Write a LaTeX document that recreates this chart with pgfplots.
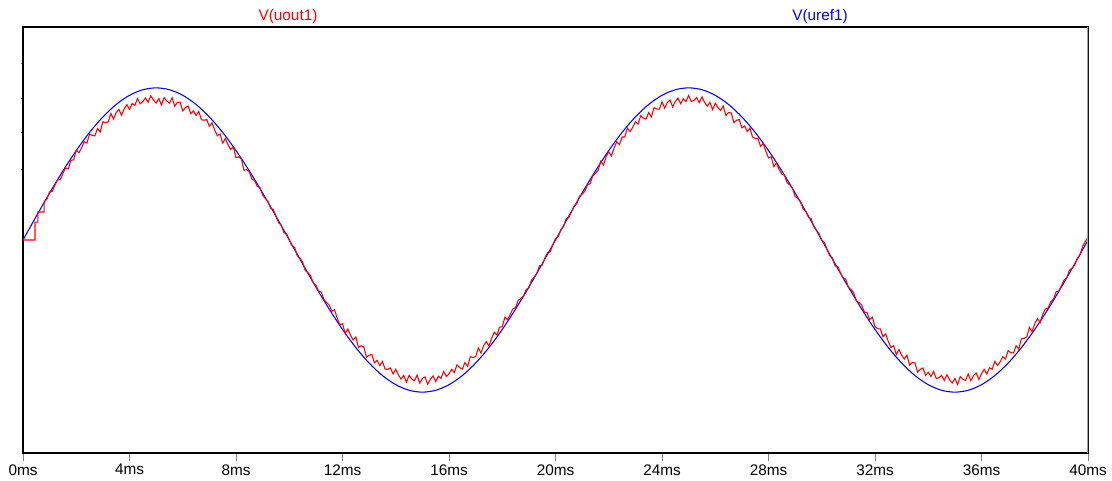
\documentclass[border=0pt]{standalone}
\usepackage{pgfplots}
\pgfplotsset{compat=1.18}
\usepackage{fontspec}
\setmainfont{Liberation Sans}
\definecolor{ltred}{RGB}{255,0,0}
\definecolor{ltblue}{RGB}{0,0,255}
\begin{document}
\begin{tikzpicture}
\useasboundingbox (0,0) rectangle (834pt,360pt);
\begin{axis}[
  at={(17.25pt,20.25pt)}, anchor=south west,
  scale only axis, width=798.75pt, height=319.5pt,
  xmin=0, xmax=40, ymin=-1.4, ymax=1.4,
  axis line style={black, line width=0.8pt},
  xtick={0,4,...,40},
  xticklabels={0ms,4ms,8ms,12ms,16ms,20ms,24ms,28ms,32ms,36ms,40ms},
  ytick={0.467,0.704,0.928,1.164},
  yticklabels={},
  xtick pos=bottom, ytick pos=left,
  tick align=outside,
  major tick length=6pt,
  ytick style={/pgfplots/major tick length=1.5pt, line width=0.6pt},
  xtick style={line width=0.6pt},
  xticklabel style={font=\fontsize{11.5}{13}\selectfont, yshift=1pt},
]
\addplot[ltblue, line width=0.8pt, smooth] coordinates {
(0,0)(0.5,.1564)(1,.3090)(1.5,.4540)(2,.5878)(2.5,.7071)(3,.8090)(3.5,.8910)(4,.9511)(4.5,.9877)
(5,1)(5.5,.9877)(6,.9511)(6.5,.8910)(7,.8090)(7.5,.7071)(8,.5878)(8.5,.4540)(9,.3090)(9.5,.1564)
(10,0)(10.5,-.1564)(11,-.3090)(11.5,-.4540)(12,-.5878)(12.5,-.7071)(13,-.8090)(13.5,-.8910)(14,-.9511)(14.5,-.9877)
(15,-1)(15.5,-.9877)(16,-.9511)(16.5,-.8910)(17,-.8090)(17.5,-.7071)(18,-.5878)(18.5,-.4540)(19,-.3090)(19.5,-.1564)
(20,0)(20.5,.1564)(21,.3090)(21.5,.4540)(22,.5878)(22.5,.7071)(23,.8090)(23.5,.8910)(24,.9511)(24.5,.9877)
(25,1)(25.5,.9877)(26,.9511)(26.5,.8910)(27,.8090)(27.5,.7071)(28,.5878)(28.5,.4540)(29,.3090)(29.5,.1564)
(30,0)(30.5,-.1564)(31,-.3090)(31.5,-.4540)(32,-.5878)(32.5,-.7071)(33,-.8090)(33.5,-.8910)(34,-.9511)(34.5,-.9877)
(35,-1)(35.5,-.9877)(36,-.9511)(36.5,-.8910)(37,-.8090)(37.5,-.7071)(38,-.5878)(38.5,-.4540)(39,-.3090)(39.5,-.1564)
(40,0)
};
\addplot[ltred, line width=0.8pt] coordinates {
(0,0)(0.45,0)(0.45,0.118)(0.56,0.118)(0.56,0.184)(0.79,0.184)(0.79,0.25)(0.9,0.27)
(1.0,.316)(1.1,.320)(1.2,.362)(1.3,.395)(1.4,.396)(1.5,.438)(1.6,.473)(1.7,.468)(1.8,.523)(1.9,.527)
(2.0,.590)(2.1,.573)(2.2,.605)(2.3,.646)(2.4,.637)(2.5,.697)(2.6,.687)(2.7,.685)(2.8,.733)(2.9,.710)
(3.0,.777)(3.1,.772)(3.2,.777)(3.3,.831)(3.4,.795)(3.5,.838)(3.6,.859)(3.7,.820)(3.8,.861)(3.9,.890)
(4.0,.859)(4.1,.897)(4.2,.884)(4.3,.930)(4.4,.895)(4.5,.910)(4.6,.933)(4.7,.906)(4.8,.948)(4.9,.920)
(5.0,.900)(5.1,.930)(5.2,.888)(5.3,.936)(5.4,.913)(5.5,.900)(5.6,.935)(5.7,.880)(5.8,.904)(5.9,.907)
(6.0,.849)(6.1,.870)(6.2,.881)(6.3,.830)(6.4,.849)(6.5,.818)(6.6,.845)(6.7,.791)(6.8,.787)(6.9,.792)
(7.0,.747)(7.1,.770)(7.2,.723)(7.3,.685)(7.4,.697)(7.5,.637)(7.6,.667)(7.7,.626)(7.8,.595)(7.9,.613)
(8.0,.540)(8.1,.547)(8.2,.533)(8.3,.458)(8.4,.463)(8.5,.448)(8.6,.401)(8.7,.390)(8.8,.352)(8.9,.345)
(9.0,.296)(9.1,.273)(9.2,.254)(9.3,.209)(9.4,.200)(9.5,.155)(9.6,.114)(9.7,.098)(9.8,.048)(9.9,.041)
(10.0,0)(10.1,-.036)(10.2,-.048)(10.3,-.103)(10.4,-.119)(10.5,-.145)(10.6,-.200)(10.7,-.214)(10.8,-.234)(10.9,-.283)
(11.0,-.296)(11.1,-.335)(11.2,-.342)(11.3,-.390)(11.4,-.411)(11.5,-.428)(11.6,-.468)(11.7,-.458)(11.8,-.513)(11.9,-.557)
(12.0,-.550)(12.1,-.613)(12.2,-.585)(12.3,-.626)(12.4,-.657)(12.5,-.637)(12.6,-.707)(12.7,-.695)(12.8,-.703)(12.9,-.770)
(13.0,-.757)(13.1,-.752)(13.2,-.807)(13.3,-.791)(13.4,-.825)(13.5,-.798)(13.6,-.849)(13.7,-.850)(13.8,-.841)(13.9,-.880)
(14.0,-.849)(14.1,-.887)(14.2,-.914)(14.3,-.890)(14.4,-.935)(14.5,-.890)(14.6,-.913)(14.7,-.926)(14.8,-.888)(14.9,-.940)
(15.0,-.910)(15.1,-.900)(15.2,-.948)(15.3,-.916)(15.4,-.893)(15.5,-.930)(15.6,-.895)(15.7,-.910)(15.8,-.864)(15.9,-.897)
(16.0,-.879)(16.1,-.850)(16.2,-.871)(16.3,-.820)(16.4,-.839)(16.5,-.848)(16.6,-.805)(16.7,-.831)(16.8,-.767)(16.9,-.772)
(17.0,-.767)(17.1,-.710)(17.2,-.743)(17.3,-.695)(17.4,-.667)(17.5,-.697)(17.6,-.647)(17.7,-.606)(17.8,-.625)(17.9,-.573)
(18.0,-.570)(18.1,-.507)(18.2,-.523)(18.3,-.488)(18.4,-.453)(18.5,-.443)(18.6,-.396)(18.7,-.385)(18.8,-.367)(18.9,-.325)
(19.0,-.316)(19.1,-.263)(19.2,-.244)(19.3,-.219)(19.4,-.170)(19.5,-.165)(19.6,-.119)(19.7,-.083)(19.8,-.078)(19.9,-.031)
(20.0,.010)(20.1,.021)(20.2,.068)(20.3,.088)(20.4,.139)(20.5,.150)(20.6,.185)(20.7,.224)(20.8,.239)(20.9,.288)
(21.0,.301)(21.1,.320)(21.2,.362)(21.3,.370)(21.4,.421)(21.5,.438)(21.6,.458)(21.7,.518)(21.8,.493)(21.9,.547)
(22.0,.580)(22.1,.553)(22.2,.605)(22.3,.646)(22.4,.627)(22.5,.677)(22.6,.677)(22.7,.735)(22.8,.713)(22.9,.740)
(23.0,.777)(23.1,.762)(23.2,.817)(23.3,.801)(23.4,.795)(23.5,.838)(23.6,.809)(23.7,.870)(23.8,.861)(23.9,.860)
(24.0,.909)(24.1,.867)(24.2,.904)(24.3,.920)(24.4,.875)(24.5,.910)(24.6,.933)(24.7,.896)(24.8,.928)(24.9,.910)
(25.0,.950)(25.1,.910)(25.2,.918)(25.3,.936)(25.4,.903)(25.5,.940)(25.6,.905)(25.7,.880)(25.8,.904)(25.9,.857)
(26.0,.899)(26.1,.870)(26.2,.851)(26.3,.880)(26.4,.819)(26.5,.838)(26.6,.835)(26.7,.771)(26.8,.787)(26.9,.792)
(27.0,.737)(27.1,.750)(27.2,.713)(27.3,.735)(27.4,.677)(27.5,.667)(27.6,.667)(27.7,.616)(27.8,.635)(27.9,.583)
(28.0,.540)(28.1,.547)(28.2,.483)(28.3,.508)(28.4,.463)(28.5,.433)(28.6,.426)(28.7,.375)(28.8,.362)(28.9,.340)
(29.0,.286)(29.1,.273)(29.2,.254)(29.3,.204)(29.4,.190)(29.5,.150)(29.6,.139)(29.7,.088)(29.8,.063)(29.9,.041)
(30.0,-.005)(30.1,-.016)(30.2,-.063)(30.3,-.103)(30.4,-.119)(30.5,-.170)(30.6,-.175)(30.7,-.214)(30.8,-.249)(30.9,-.258)
(31.0,-.311)(31.1,-.325)(31.2,-.347)(31.3,-.400)(31.4,-.411)(31.5,-.428)(31.6,-.473)(31.7,-.478)(31.8,-.523)(31.9,-.507)
(32.0,-.570)(32.1,-.583)(32.2,-.585)(32.3,-.636)(32.4,-.617)(32.5,-.667)(32.6,-.707)(32.7,-.695)(32.8,-.753)(32.9,-.720)
(33.0,-.757)(33.1,-.782)(33.2,-.757)(33.3,-.821)(33.4,-.805)(33.5,-.808)(33.6,-.869)(33.7,-.850)(33.8,-.841)(33.9,-.890)
(34.0,-.869)(34.1,-.897)(34.2,-.864)(34.3,-.910)(34.4,-.905)(34.5,-.890)(34.6,-.923)(34.7,-.886)(34.8,-.918)(34.9,-.940)
(35.0,-.910)(35.1,-.950)(35.2,-.898)(35.3,-.916)(35.4,-.923)(35.5,-.880)(35.6,-.925)(35.7,-.890)(35.8,-.874)(35.9,-.917)
(36.0,-.879)(36.1,-.850)(36.2,-.881)(36.3,-.840)(36.4,-.849)(36.5,-.798)(36.6,-.825)(36.7,-.801)(36.8,-.767)(36.9,-.782)
(37.0,-.727)(37.1,-.740)(37.2,-.743)(37.3,-.695)(37.4,-.717)(37.5,-.647)(37.6,-.647)(37.7,-.636)(37.8,-.575)(37.9,-.603)
(38.0,-.550)(38.1,-.517)(38.2,-.543)(38.3,-.488)(38.4,-.453)(38.5,-.448)(38.6,-.406)(38.7,-.390)(38.8,-.342)(38.9,-.335)
(39.0,-.301)(39.1,-.263)(39.2,-.249)(39.3,-.199)(39.4,-.185)(39.5,-.165)(39.6,-.119)(39.7,-.098)(39.8,-.040)(39.9,-.010)(40.0,.020)
};
\draw[gray!70, line width=1.2pt] (rel axis cs:1,0) -- (rel axis cs:1,1);
\end{axis}
\node[text=ltred, font=\fontsize{11.5}{13}\selectfont] at (216pt,347.25pt) {V(uout1)};
\node[text=ltblue, font=\fontsize{11.5}{13}\selectfont] at (615pt,347.25pt) {V(uref1)};
\end{tikzpicture}
\end{document}
